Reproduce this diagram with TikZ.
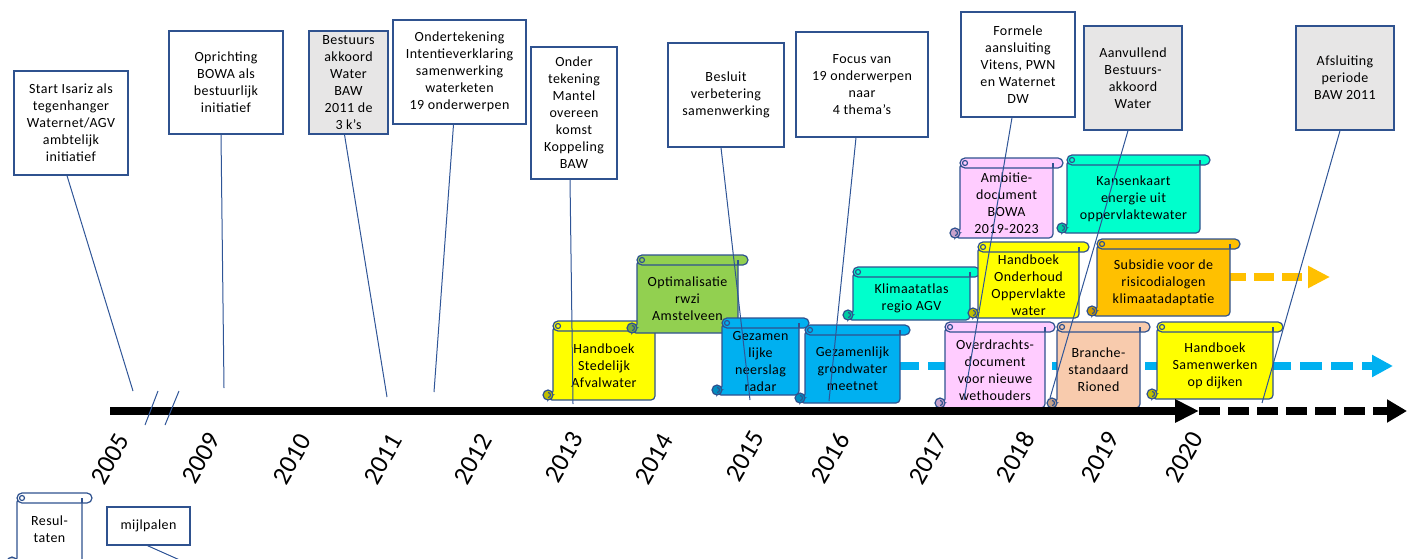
\documentclass[tikz,border=0pt]{standalone}
\usepackage{fontspec}
\setmainfont{Carlito}[LetterSpace=3]
\newfontfamily\yearfont{Carlito}
\usetikzlibrary{arrows.meta,calc}
\definecolor{boxblue}{HTML}{2F528F}
\definecolor{connblue}{HTML}{2F5597}
\definecolor{boxgray}{HTML}{E7E6E6}
\definecolor{scyellow}{HTML}{FFFF00}
\definecolor{scyellowd}{HTML}{BFBF00}
\definecolor{scgreen}{HTML}{92D050}
\definecolor{scgreend}{HTML}{75A640}
\definecolor{scblue}{HTML}{00B0F0}
\definecolor{scblued}{HTML}{008DC0}
\definecolor{scteal}{HTML}{00FFCC}
\definecolor{scteald}{HTML}{00CCA3}
\definecolor{scpink}{HTML}{FFCCFF}
\definecolor{scpinkd}{HTML}{C9A3CC}
\definecolor{scpeach}{HTML}{F8CBAD}
\definecolor{scpeachd}{HTML}{C6A28A}
\definecolor{scorange}{HTML}{FFC000}
\definecolor{scoranged}{HTML}{CC9A00}
\definecolor{scwhited}{HTML}{CCCCCC}
\tikzset{
  msbox/.style={draw=boxblue, line width=1.3pt, fill=white, align=center, inner sep=1pt,
    font=\fontsize{14pt}{17pt}\selectfont},
  graybox/.style={msbox, fill=boxgray},
  scrollline/.style={draw=boxblue, line width=1.2pt},
  scrolltext/.style={align=center, inner sep=0pt, font=\fontsize{14pt}{17pt}\selectfont},
  conn/.style={draw=connblue, line width=1pt},
  yearlabel/.style={font=\yearfont\fontsize{26pt}{30pt}\selectfont, rotate=60, inner sep=0pt},
  timeline/.style={line width=7.5pt, draw=black},
}
\def\scrolltextshift{0}
% name, body left, top, body right, bottom, fill, curl colour, text
\newcommand\drawscroll[8]{%
  \draw[scrollline, fill=#6, rounded corners=4pt] (#2,-#3-5) -- (#4,-#3-5) -- (#4,-#5) -- (#2-5,-#5) -- (#2-5,-#5+5) -- (#2,-#5+5) -- cycle;
  \draw[scrollline, fill=#6, rounded corners=5pt] (#2,-#3) rectangle (#4+10,-#3-10);
  \draw[scrollline] (#2+5,-#3-5) circle[radius=2.5];
  \draw[scrollline] (#4,-#3-10) -- (#4,-#3-5);
  \draw[scrollline, fill=#7] (#2-5,-#5+5) circle[radius=5];
  \draw[scrollline] (#2-5,-#5+7.5) arc[start angle=90, end angle=-90, radius=2.5];
  \node[scrolltext] (#1) at ({(#2+#4)/2},{-(#3+10+#5)/2+\scrolltextshift}) {#8};
}
\begin{document}
\begin{tikzpicture}[x=1pt,y=1pt]
\useasboundingbox (0,0) rectangle (1407,-559);
\clip (0,0) rectangle (1407,-559);

% dashed coloured arrows (behind the scrolls)
\coordinate (bl-a) at (897,-366);
\coordinate (bl-b) at (1393,-366);
\draw[line width=7.5pt, draw=scblue, dash pattern=on 22pt off 9pt, -{Triangle[length=21pt,width=21pt]}] (bl-a) -- (bl-b);
\coordinate (or-a) at (1226,-277);
\coordinate (or-b) at (1330,-277);
\draw[line width=7.5pt, draw=scorange, dash pattern=on 20pt off 8pt, -{Triangle[length=22pt,width=21pt]}] (or-a) -- (or-b);

% scrolls (results)
\drawscroll{hsa}{553}{321}{655}{400}{scyellow}{scyellowd}{Handboek\\Stedelijk\\Afvalwater}
\drawscroll{opt}{637}{255}{738}{333}{scgreen}{scgreend}{Optimalisatie\\rwzi\\Amstelveen}
\drawscroll{gnr}{805}{325}{900}{403}{scblue}{scblued}{Gezamenlijk\\grondwater\\meetnet}
\drawscroll{gln}{722}{318}{799}{395}{scblue}{scblued}{Gezamen\\lijke\\neerslag\\radar}
\drawscroll{kli}{853}{267}{970}{320}{scteal}{scteald}{Klimaatatlas\\regio AGV}
\drawscroll{amb}{960}{158}{1053}{238}{scpink}{scpinkd}{Ambitie-\\document\\BOWA\\2019-2023}
\drawscroll{kan}{1067}{155}{1200}{233}{scteal}{scteald}{Kansenkaart\\energie uit\\oppervlaktewater}
\drawscroll{hoo}{978}{242}{1079}{318}{scyellow}{scyellowd}{Handboek\\Onderhoud\\Oppervlakte\\water}
\drawscroll{sub}{1097}{239}{1230}{316}{scorange}{scoranged}{Subsidie voor de\\risicodialogen\\klimaatadaptatie}
\drawscroll{ovd}{945}{322}{1045}{408}{scpink}{scpinkd}{Overdrachts-\\document\\voor nieuwe\\wethouders}
\drawscroll{bra}{1057}{322}{1140}{408}{scpeach}{scpeachd}{Branche-\\standaard\\Rioned}
\drawscroll{hsd}{1157}{322}{1273}{399}{scyellow}{scyellowd}{Handboek\\Samenwerken\\op dijken}
\def\scrolltextshift{6}
\drawscroll{res}{17}{493}{82}{567}{white}{scwhited}{Resul-\\taten}
\def\scrolltextshift{0}

% milestone boxes
\node[msbox, minimum width=114pt, minimum height=104pt] (isariz) at (71,-123) {Start Isariz als\\tegenhanger\\Waternet/AGV\\ambtelijk\\initiatief};
\node[msbox, minimum width=114pt, minimum height=103pt] (bowa) at (226,-82.5) {Oprichting\\BOWA als\\bestuurlijk\\initiatief};
\node[graybox, minimum width=79pt, minimum height=103pt] (baw) at (348.5,-82.5) {Bestuurs\\akkoord\\Water\\BAW\\2011 de\\3 k’s};
\node[msbox, minimum width=133pt, minimum height=104pt] (intent) at (459.5,-72) {Ondertekening\\Intentieverklaring\\samenwerking\\waterketen\\19 onderwerpen};
\node[msbox, minimum width=86pt, minimum height=132pt] (mantel) at (574,-113) {Onder\\tekening\\Mantel\\overeen\\komst\\Koppeling\\BAW};
\node[msbox, minimum width=116pt, minimum height=104pt] (besluit) at (726,-95) {Besluit\\verbetering\\samenwerking};
\node[msbox, minimum width=132pt, minimum height=105pt] (focus) at (862,-84.5) {Focus van\\19 onderwerpen\\naar\\4 thema’s};
\node[msbox, minimum width=114pt, minimum height=105pt] (formele) at (1018,-64.5) {Formele\\aansluiting\\Vitens, PWN\\en Waternet\\DW};
\node[graybox, minimum width=98pt, minimum height=104pt] (aanv) at (1133,-78) {Aanvullend\\Bestuurs-\\akkoord\\Water};
\node[graybox, minimum width=98pt, minimum height=104pt] (afsl) at (1345,-78) {Afsluiting\\periode\\BAW 2011};
\node[msbox, minimum width=83pt, minimum height=38pt] (mijl) at (148.5,-526) {mijlpalen};

% connector end points near the time line
\coordinate (e-isariz) at (133,-391);
\coordinate (e-bowa) at (224,-388);
\coordinate (e-baw) at (387,-397);
\coordinate (e-intent) at (434,-392);
\coordinate (e-mantel) at (573,-404);
\coordinate (e-besluit) at (750,-400);
\coordinate (e-focus) at (829,-401);
\coordinate (e-formele) at (964,-400);
\coordinate (e-aanv) at (1050,-398);
\coordinate (e-afsl) at (1262,-403);
\coordinate (e-mijl) at (182,-561);

\draw[conn] ($(isariz.south)+(-4,0)$) -- (e-isariz);
\draw[conn] ($(bowa.south)+(-5,0)$) -- (e-bowa);
\draw[conn] ($(baw.south)+(-4,0)$) -- (e-baw);
\draw[conn] ($(intent.south)+(-6,0)$) -- (e-intent);
\draw[conn] ($(mantel.south)+(-4,0)$) -- (e-mantel);
\draw[conn] ($(besluit.south)+(-5,0)$) -- (e-besluit);
\draw[conn] ($(focus.south)+(-6,0)$) -- (e-focus);
\draw[conn] ($(formele.south)+(-6,0)$) -- (e-formele);
\draw[conn] ($(aanv.south)+(-5,0)$) -- (e-aanv);
\draw[conn] ($(afsl.south)+(-5,0)$) -- (e-afsl);
\draw[conn] ($(mijl.south)+(-1,0)$) -- (e-mijl);

% time line
\coordinate (tl-a) at (110,-411);
\coordinate (tl-b) at (1199,-411);
\coordinate (tl-c) at (1407,-411);
\draw[timeline, -{Triangle[length=24pt,width=22pt]}] (tl-a) -- (tl-b);
\draw[timeline, dash pattern=on 21pt off 8pt, -{Triangle[length=20pt,width=22pt]}] (tl-b) -- (tl-c);

% break marks
\draw[conn] (158,-391) -- (145,-425);
\draw[conn] (179,-391) -- (165,-425);

% years
\node[yearlabel] (y2005) at (110,-459) {2005};
\node[yearlabel] (y2009) at (201,-458) {2009};
\node[yearlabel] (y2010) at (292,-459) {2010};
\node[yearlabel] (y2011) at (383,-459) {2011};
\node[yearlabel] (y2012) at (473,-459) {2012};
\node[yearlabel] (y2013) at (564,-457) {2013};
\node[yearlabel] (y2014) at (654,-459) {2014};
\node[yearlabel] (y2015) at (745,-456) {2015};
\node[yearlabel] (y2016) at (830,-458) {2016};
\node[yearlabel] (y2017) at (928,-459) {2017};
\node[yearlabel] (y2018) at (1015,-457) {2018};
\node[yearlabel] (y2019) at (1100,-457) {2019};
\node[yearlabel] (y2020) at (1184,-457) {2020};
\end{tikzpicture}
\end{document}
